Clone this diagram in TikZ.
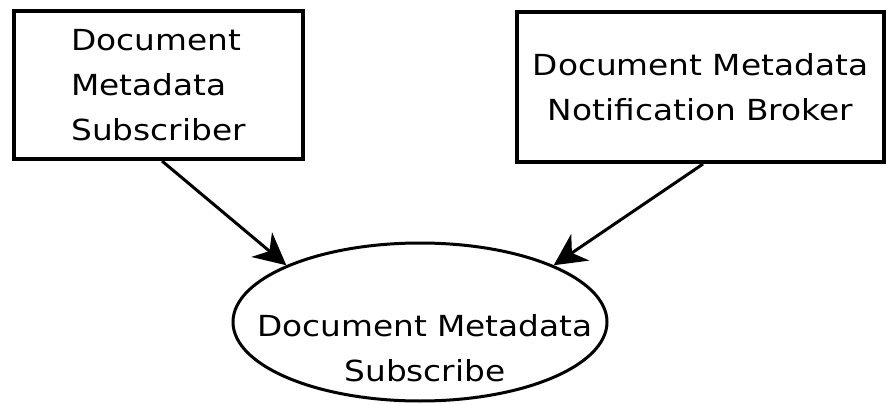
\documentclass[tikz,border=0pt]{standalone}
\usepackage{fontspec}
\setmainfont[FakeStretch=1.13]{DejaVu Sans}
\usetikzlibrary{arrows.meta,shapes.geometric}
\begin{document}
\begin{tikzpicture}[x=1pt,y=-1pt,
  boxnode/.style={draw,line width=4pt,rectangle,inner sep=0pt,font=\fontsize{29}{45}\selectfont},
  ovalnode/.style={draw,line width=3pt,ellipse,inner sep=0pt},
  txt/.style={font=\fontsize{29}{45}\selectfont,align=center,inner sep=0pt},
  conn/.style={line width=3pt,-{Stealth[length=32pt,width=32pt,inset=10pt]}}]
\useasboundingbox (0,0) rectangle (887,404);
\node[boxnode,minimum width=289pt,minimum height=148pt,align=left] (lb) at (158.5,85) {Document\\Metadata\\Subscriber};
\node[boxnode,minimum width=367pt,minimum height=150pt,align=center] (rb) at (700.5,87) {Document Metadata\\Notification Broker};
\node[ovalnode,minimum width=374pt,minimum height=158pt] (sub) at (420,322) {};
\node[txt] (subtext) at (425,348) {Document Metadata\\Subscribe};
\draw[conn] ([xshift=3.5pt]lb.south) -- (sub.157);
\draw[conn] ([xshift=2.5pt]rb.south) -- (sub.23);
\end{tikzpicture}
\end{document}
